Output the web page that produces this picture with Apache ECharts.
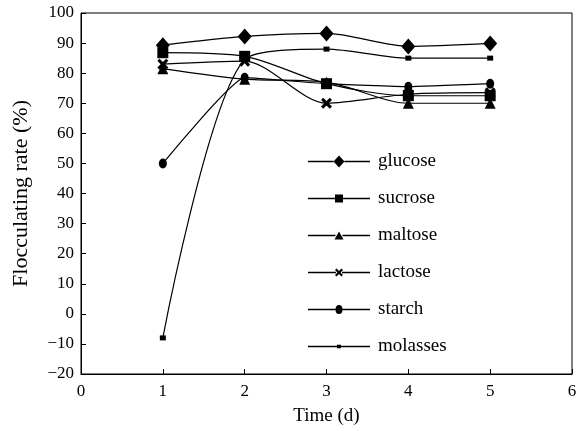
<!DOCTYPE html>
<html>
<head>
<meta charset="utf-8">
<script src="https://cdn.jsdelivr.net/npm/echarts@6/dist/echarts.min.js"></script>
<style>
  html, body { margin: 0; padding: 0; background: #fff; }
  #main { width: 586px; height: 431px; }
</style>
</head>
<body>
<div id="main"></div>
<script>
var myChart = echarts.init(document.getElementById('main'));

// Data
var days = [1, 2, 3, 4, 5];
var names = ['glucose', 'sucrose', 'maltose', 'lactose', 'starch', 'molasses'];
var glucose = [89.3, 92.2, 93.2, 88.9, 89.9];
var sucrose = [86.8, 85.6, 76.5, 72.5, 72.5];
var maltose = [81.5, 78, 77, 70, 70];
var lactose = [83, 84, 70, 73, 73.5];
var starch = [50, 78.5, 76.5, 75.5, 76.5];
var molasses = [-8, 84.5, 88, 85, 85];

var font = 'Liberation Serif';
var crossPath = 'path://M0,2 L2,0 L5,3 L8,0 L10,2 L7,5 L10,8 L8,10 L5,7 L2,10 L0,8 L3,5 Z';

// legend icons: line pieces either side of the marker, in a 62x13 box
function legendIcon(marker, l, r) {
    return 'path://M0,0 L0.01,0 Z M62,13 L61.99,13 Z ' +
        'M0,5.8 L' + l + ',5.8 L' + l + ',7.2 L0,7.2 Z ' +
        'M' + r + ',5.8 L62,5.8 L62,7.2 L' + r + ',7.2 Z ' + marker;
}
var icons = [
    legendIcon('M25.5,6.5 L31,0.5 L36.5,6.5 L31,12.5 Z', 25.5, 36.5),
    legendIcon('M27,2.5 L35,2.5 L35,10.5 L27,10.5 Z', 27, 35),
    legendIcon('M31,2.5 L35.5,10.5 L26.5,10.5 Z', 27.5, 34.5),
    legendIcon('M27,4.1 L28.6,2.5 L31,4.9 L33.4,2.5 L35,4.1 L32.6,6.5 L35,8.9 L33.4,10.5 L31,8.1 L28.6,10.5 L27,8.9 L29.4,6.5 Z', 28, 34),
    legendIcon('M27.5,6.5 A3.5,4.5 0 1,1 34.5,6.5 A3.5,4.5 0 1,1 27.5,6.5 Z', 27.6, 34.4),
    legendIcon('M29,4.8 L33,4.8 L33,8.2 L29,8.2 Z', 29, 33)
];

function pairs(vals) {
    return days.map(function (d, i) { return [d, vals[i]]; });
}

function makeSeries(name, vals, symbol, size, smooth) {
    return {
        name: name,
        type: 'line',
        smooth: smooth,
        data: pairs(vals),
        symbol: symbol,
        symbolSize: size,
        showAllSymbol: true,
        lineStyle: { color: '#000', width: 1.2 },
        itemStyle: { color: '#000', borderWidth: 0 },
        emphasis: { disabled: true }
    };
}

var option = {
    animation: false,
    backgroundColor: '#fff',
    textStyle: { fontFamily: font, color: '#000' },
    grid: {
        left: 81,
        right: 14,
        top: 13,
        bottom: 52,
        show: true,
        borderColor: '#000',
        borderWidth: 1
    },
    legend: {
        orient: 'vertical',
        left: 303,
        top: 147,
        itemWidth: 62,
        itemHeight: 13,
        itemGap: 18,
        selectedMode: false,
        itemStyle: { borderWidth: 0 },
        textStyle: { fontFamily: font, fontSize: 19, color: '#000', padding: [0, 0, 0, 3] },
        data: names.map(function (n, i) { return { name: n, icon: icons[i] }; })
    },
    xAxis: {
        type: 'value',
        min: 0,
        max: 6,
        interval: 1,
        name: 'Time (d)',
        nameLocation: 'middle',
        nameGap: 33,
        nameTextStyle: { fontFamily: font, fontSize: 19, color: '#000' },
        axisLine: { onZero: false, lineStyle: { color: '#000', width: 1 } },
        axisTick: { inside: true, length: 5, lineStyle: { color: '#000' } },
        axisLabel: { fontFamily: font, fontSize: 17, color: '#000', margin: 9 },
        splitLine: { show: false }
    },
    yAxis: {
        type: 'value',
        min: -20,
        max: 100,
        interval: 10,
        name: 'Flocculating rate (%)',
        nameLocation: 'middle',
        nameGap: 49,
        nameTextStyle: { fontFamily: font, fontSize: 22, color: '#000' },
        axisLine: { lineStyle: { color: '#000', width: 1 } },
        axisTick: { inside: true, length: 5, lineStyle: { color: '#000' } },
        axisLabel: {
            fontFamily: font, fontSize: 17, color: '#000', margin: 7,
            formatter: function (v) { return String(v).replace('-', '\u2212'); }
        },
        splitLine: { show: false }
    },
    series: [
        makeSeries('glucose', glucose, 'diamond', [14, 16], 0.28),
        makeSeries('sucrose', sucrose, 'rect', [11, 11], 0.28),
        makeSeries('maltose', maltose, 'triangle', [11, 11], 0.28),
        makeSeries('lactose', lactose, crossPath, [11, 11], 0.28),
        makeSeries('starch', starch, 'circle', [8, 10], 0.12),
        makeSeries('molasses', molasses, 'rect', [6, 5], 0.28)
    ]
};

myChart.setOption(option);
</script>
</body>
</html>
